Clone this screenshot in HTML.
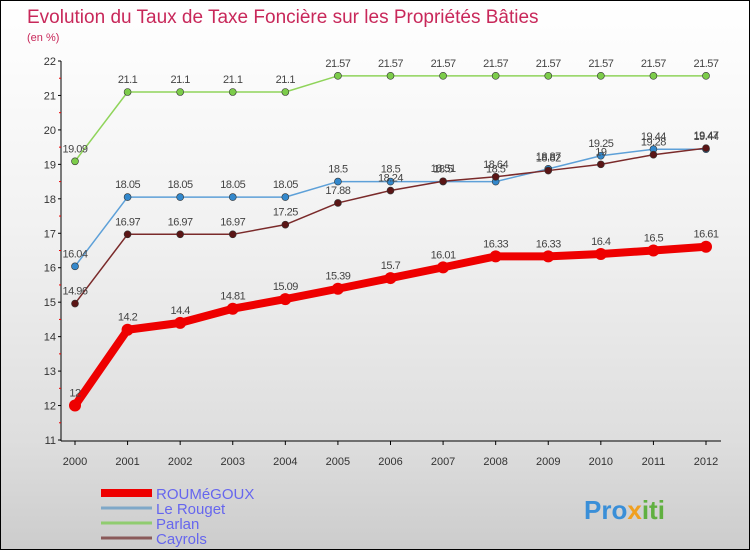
<!DOCTYPE html>
<html><head><meta charset="utf-8"><style>
body{margin:0;}
#c{position:relative;width:748px;height:548px;border:1px solid #000;background:linear-gradient(#ffffff 0%,#f2f2f2 40%,#dedede 80%,#cccccc 100%);font-family:"Liberation Sans",sans-serif;overflow:hidden}
svg text{font-family:"Liberation Sans",sans-serif}
</style></head><body>
<div id="c">
<svg id="s" width="748" height="548">
<text x="26" y="22" font-size="19" fill="#c8285a">Evolution du Taux de Taxe Foncière sur les Propriétés Bâties</text>
<text x="26" y="40" font-size="11" fill="#c8285a">(en %)</text>
<g id="axes"></g><g id="series"></g><g id="legend"></g>
<text x="583" y="518" font-size="26" font-weight="bold" fill="#3a8fd8">Pro<tspan fill="#f0a020">x</tspan><tspan fill="#60b040">iti</tspan></text>
</svg>
</div>
<script>
const years=["2000","2001","2002","2003","2004","2005","2006","2007","2008","2009","2010","2011","2012"];
const yTicks=[11,12,13,14,15,16,17,18,19,20,21,22];
const roumegoux=[12,14.2,14.4,14.81,15.09,15.39,15.7,16.01,16.33,16.33,16.4,16.5,16.61];
const leRouget=[16.04,18.05,18.05,18.05,18.05,18.5,18.5,18.5,18.5,18.87,19.25,19.44,19.44];
const parlan=[19.09,21.1,21.1,21.1,21.1,21.57,21.57,21.57,21.57,21.57,21.57,21.57,21.57];
const cayrols=[14.96,16.97,16.97,16.97,17.25,17.88,18.24,18.51,18.64,18.82,19,19.28,19.47];
const seriesNames=["ROUMéGOUX","Le Rouget","Parlan","Cayrols"];
const NS="http://www.w3.org/2000/svg";
function X(i){return 74+i*(705-74)/(years.length-1);}
function Y(v){return 439-(v-11)*(439-60)/11;}
function mk(t,a,p){const e=document.createElementNS(NS,t);for(const k in a)e.setAttribute(k,a[k]);p.appendChild(e);return e;}
const ax=document.getElementById('axes');
const yl=mk('line',{x1:60,y1:60,x2:60,y2:440,stroke:'#000'},ax);


const xl=mk('line',{x1:60,y1:440,x2:720,y2:440,stroke:'#000'},ax);


yTicks.forEach(v=>{
 const t=mk('text',{x:55,y:Y(v)+4,'font-size':11,fill:'#333','text-anchor':'end'},ax);t.textContent=v;
 
 
 mk('line',{x1:57,y1:Y(v),x2:60,y2:Y(v),stroke:'#000'},ax);
 if(v<22)mk('line',{x1:58,y1:Y(v+0.5),x2:60,y2:Y(v+0.5),stroke:'#e00'},ax);
});
years.forEach((y,i)=>{
 const t=mk('text',{x:X(i),y:464,'font-size':11,fill:'#333','text-anchor':'middle'},ax);t.textContent=y;
 
 
 mk('line',{x1:X(i),y1:440,x2:X(i),y2:444,stroke:'#000'},ax);
});
const sg=document.getElementById('series');
const defs=[[parlan,'#8fd45a','#7ccc4a',1.5,3.5],[leRouget,'#5da0d8','#3388cc',1.5,3.5],[cayrols,'#7a2a2a','#5a1515',1.5,3.5],[roumegoux,'#ee0000','#ee0000',8,6]];
const keys=['parlan','le-rouget','cayrols','roumegoux'];
defs.forEach((d,si)=>{
 const [data,lc,pc,w,r]=d;
 const p=mk('polyline',{points:data.map((v,i)=>X(i)+','+Y(v)).join(' '),fill:'none',stroke:lc,'stroke-width':w,'stroke-linejoin':'round'},sg);
 
 
 data.forEach((v,i)=>{
  const c=mk('circle',{cx:X(i),cy:Y(v),r:r,fill:pc,stroke:'#333','stroke-width':si==3?0:0.6},sg);
  
  
  const t=mk('text',{x:X(i),y:Y(v)-9,'font-size':11,fill:'#444','text-anchor':'middle','letter-spacing':'-0.5'},sg);t.textContent=v;
  
  
 });
});
const lg=document.getElementById('legend');
const lc=[['#ee0000',8],['#7fa8c8',3],['#90cc70',3],['#8a5a5a',3]];
seriesNames.forEach((n,i)=>{
 const yy=492+i*15;
 const l=mk('line',{x1:100,y1:yy,x2:151,y2:yy,stroke:lc[i][0],'stroke-width':lc[i][1]},lg);
 
 
 const t=mk('text',{x:155,y:yy+6,'font-size':15,fill:'#6666ee'},lg);t.textContent=n;
 
 
});
</script>
</body></html>
